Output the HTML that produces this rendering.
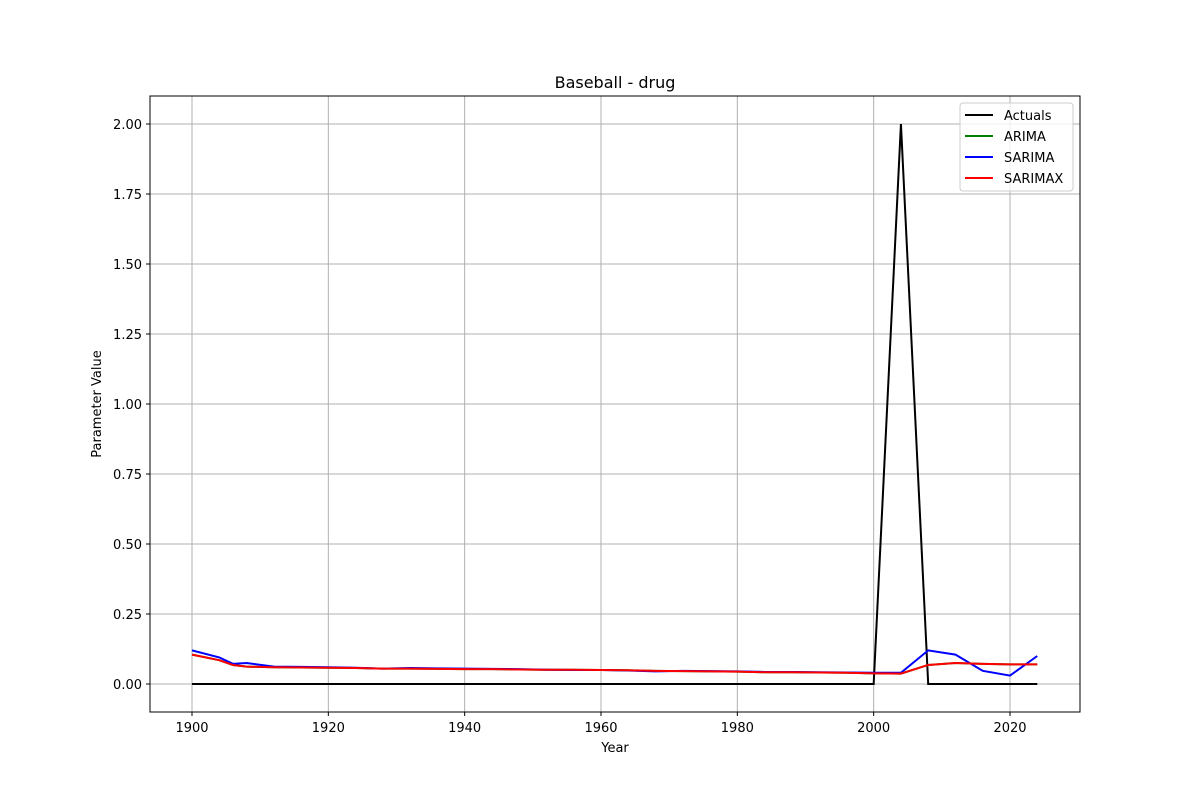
<!DOCTYPE html>
<html><head><meta charset="utf-8"><style>
body{margin:0;background:#fff}
svg text{font-family:"DejaVu Sans","Liberation Sans",sans-serif;fill:#000}
</style></head><body>
<svg id="chart" width="1200" height="800" xmlns="http://www.w3.org/2000/svg">
<rect width="1200" height="800" fill="#fff"/>
<g id="grid"></g>
<g id="series"></g>
<rect x="150" y="96" width="930" height="616" fill="none" stroke="#000" stroke-width="1"/>
<g id="ticks"></g>
<text x="615" y="88" font-size="16" text-anchor="middle">Baseball - drug</text>
<text x="615" y="752" font-size="13" text-anchor="middle">Year</text>
<text transform="translate(101,404) rotate(-90)" font-size="13" text-anchor="middle">Parameter Value</text>
<g id="legend">
<rect x="960" y="103" width="113" height="88" rx="3" fill="#fff" fill-opacity="0.8" stroke="#ccc"/>
</g>
</svg>
<script>
const years=[1900,1904,1906,1908,1912,1916,1920,1924,1928,1932,1936,1940,1944,1948,1952,1956,1960,1964,1968,1972,1976,1980,1984,1988,1992,1996,2000,2004,2008,2012,2016,2020,2024];
const actuals=[0,0,0,0,0,0,0,0,0,0,0,0,0,0,0,0,0,0,0,0,0,0,0,0,0,0,0,2.0,0,0,0,0,0];
const sarima=[0.12,0.095,0.072,0.075,0.062,0.061,0.060,0.058,0.055,0.057,0.056,0.055,0.054,0.053,0.051,0.050,0.050,0.048,0.045,0.047,0.046,0.045,0.043,0.043,0.042,0.041,0.040,0.040,0.12,0.105,0.047,0.030,0.10];
const sarimax=[0.105,0.085,0.068,0.062,0.060,0.059,0.058,0.057,0.055,0.055,0.054,0.053,0.053,0.052,0.051,0.051,0.050,0.049,0.047,0.046,0.045,0.044,0.042,0.042,0.041,0.040,0.038,0.037,0.068,0.075,0.072,0.070,0.070];
const arima=sarimax.slice();
const xTicks=[1900,1920,1940,1960,1980,2000,2020];
const yTicks=[0,0.25,0.5,0.75,1.0,1.25,1.5,1.75,2.0];
const X=v=>192+(v-1900)*(818/120);
const Y=v=>684-v*280;
const NS='http://www.w3.org/2000/svg';
function mk(t,p,a){const e=document.createElementNS(NS,t);for(const k in a)e.setAttribute(k,a[k]);p.appendChild(e);return e;}
const grid=document.getElementById('grid'),ticks=document.getElementById('ticks');
xTicks.forEach(t=>{
 const g=mk('line',grid,{x1:X(t),x2:X(t),y1:96,y2:712,stroke:'#b0b0b0','stroke-width':1});
 
 
 mk('line',ticks,{x1:X(t),x2:X(t),y1:712,y2:716,stroke:'#000'});
 const l=mk('text',ticks,{x:X(t),y:732,'font-size':13,'text-anchor':'middle'});l.textContent=t;
 
 
});
yTicks.forEach(t=>{
 const g=mk('line',grid,{x1:150,x2:1080,y1:Y(t),y2:Y(t),stroke:'#b0b0b0','stroke-width':1});
 
 
 mk('line',ticks,{x1:146,x2:150,y1:Y(t),y2:Y(t),stroke:'#000'});
 const l=mk('text',ticks,{x:142,y:Y(t)+5,'font-size':13,'text-anchor':'end'});l.textContent=t.toFixed(2);
 
 
});
const ser=document.getElementById('series');
const defs=[['Actuals',actuals,'#000'],['ARIMA',arima,'green'],['SARIMA',sarima,'blue'],['SARIMAX',sarimax,'red']];
defs.forEach(([n,d,c],i)=>{
 const p=mk('polyline',ser,{points:d.map((v,j)=>X(years[j])+','+Y(v)).join(' '),fill:'none',stroke:c,'stroke-width':2});
 
 
 const lg=document.getElementById('legend');
 const y=115+i*21;
 const ln=mk('line',lg,{x1:965,x2:993,y1:y,y2:y,stroke:c,'stroke-width':2});
 
 
 const t=mk('text',lg,{x:1004,y:y+5,'font-size':13});t.textContent=n;
 
 
});
</script>
</body></html>
